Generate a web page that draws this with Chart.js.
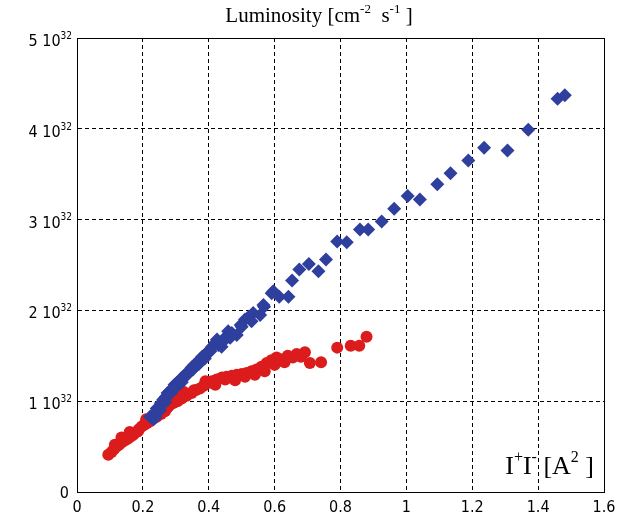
<!DOCTYPE html>
<html>
<head>
<meta charset="utf-8">
<script src="https://cdn.jsdelivr.net/npm/chart.js@4/dist/chart.umd.min.js"></script>
<style>
  html, body { margin: 0; padding: 0; background: #fff; }
  #wrap { width: 628px; height: 519px; position: relative; }
</style>
</head>
<body>
<div id="wrap"><canvas id="myChart" width="628" height="519"></canvas></div>
<script>
// データ（y は 10^32 cm^-2 s^-1 単位）
const blueX = [0.222, 0.232, 0.235, 0.242, 0.250, 0.255, 0.262, 0.270, 0.275, 0.282, 0.290, 0.296, 0.303, 0.310, 0.316, 0.323, 0.330, 0.340, 0.348, 0.356, 0.365, 0.373, 0.380, 0.390, 0.399, 0.410, 0.419, 0.429, 0.439, 0.449, 0.459, 0.470, 0.485, 0.497, 0.510, 0.522, 0.535, 0.556, 0.566, 0.568, 0.591, 0.596, 0.614, 0.642, 0.653, 0.675, 0.704, 0.733, 0.756, 0.790, 0.819, 0.859, 0.884, 0.925, 0.963, 1.004, 1.041, 1.094, 1.134, 1.188, 1.236, 1.307, 1.370, 1.459, 1.481,
  0.238, 0.252, 0.268, 0.285, 0.300, 0.318, 0.335, 0.352, 0.370, 0.388, 0.405, 0.425, 0.445, 0.465, 0.500, 0.530];
const blueY = [0.83, 0.80, 0.87, 0.92, 0.94, 0.98, 1.02, 1.05, 1.09, 1.11, 1.14, 1.18, 1.20, 1.22, 1.25, 1.27, 1.30, 1.33, 1.37, 1.40, 1.43, 1.46, 1.49, 1.52, 1.55, 1.60, 1.64, 1.62, 1.60, 1.70, 1.77, 1.75, 1.73, 1.84, 1.90, 1.93, 1.97, 1.95, 2.06, 2.04, 2.19, 2.21, 2.15, 2.15, 2.33, 2.45, 2.51, 2.43, 2.56, 2.76, 2.75, 2.89, 2.89, 2.98, 3.12, 3.26, 3.22, 3.39, 3.51, 3.65, 3.79, 3.76, 3.99, 4.33, 4.37,
  0.82, 0.90, 0.99, 1.09, 1.15, 1.21, 1.29, 1.35, 1.41, 1.47, 1.55, 1.68, 1.66, 1.70, 1.82, 1.88];

const redX = [0.095, 0.105, 0.112, 0.120, 0.128, 0.137, 0.146, 0.155, 0.163, 0.171, 0.180, 0.188, 0.196, 0.205, 0.213, 0.222, 0.232, 0.242, 0.255, 0.267, 0.275, 0.283, 0.292, 0.305, 0.318, 0.333, 0.348, 0.360, 0.373, 0.385, 0.399, 0.410, 0.424, 0.440, 0.454, 0.470, 0.485, 0.500, 0.515, 0.530, 0.545, 0.560, 0.576, 0.590, 0.606, 0.621, 0.640, 0.667, 0.692, 0.707, 0.741, 0.790, 0.831, 0.857, 0.879,
  0.115, 0.135, 0.160, 0.185, 0.210, 0.250, 0.270, 0.300, 0.325, 0.355, 0.390, 0.420, 0.450, 0.480, 0.510, 0.540, 0.570, 0.600, 0.630, 0.655, 0.680];
const redY = [0.41, 0.44, 0.47, 0.50, 0.52, 0.55, 0.57, 0.59, 0.61, 0.63, 0.66, 0.69, 0.72, 0.74, 0.76, 0.78, 0.81, 0.83, 0.86, 0.89, 0.93, 0.96, 0.98, 1.00, 1.03, 1.06, 1.09, 1.12, 1.14, 1.17, 1.20, 1.22, 1.24, 1.26, 1.27, 1.28, 1.29, 1.30, 1.31, 1.33, 1.35, 1.38, 1.42, 1.45, 1.48, 1.46, 1.50, 1.52, 1.54, 1.42, 1.43, 1.59, 1.61, 1.61, 1.71,
  0.52, 0.60, 0.66, 0.67, 0.80, 0.93, 0.96, 1.05, 1.10, 1.12, 1.22, 1.18, 1.24, 1.23, 1.27, 1.29, 1.33, 1.40, 1.43, 1.48, 1.49];

// 軸目盛
const xTicks = [0, 0.2, 0.4, 0.6, 0.8, 1, 1.2, 1.4, 1.6];
const yTicks = [0, 1, 2, 3, 4, 5];

const toPoints = (xs, ys) => xs.map((x, i) => ({ x: x, y: ys[i] }));

// 上付き文字を含むテキストを描く
function drawRich(ctx, parts, x, y, size, family, align) {
  const mainFont = `${size}px ${family}`;
  const supFont = `${Math.round(size * 0.62)}px ${family}`;
  let total = 0;
  parts.forEach(p => {
    ctx.font = p.sup ? supFont : mainFont;
    total += ctx.measureText(p.t).width;
  });
  let cx = align === 'right' ? x - total : align === 'center' ? x - total / 2 : x;
  ctx.textAlign = 'left';
  ctx.textBaseline = 'alphabetic';
  parts.forEach(p => {
    ctx.font = p.sup ? supFont : mainFont;
    ctx.fillText(p.t, cx, p.sup ? y - size * 0.45 : y);
    cx += ctx.measureText(p.t).width;
  });
}

const decorPlugin = {
  id: 'decor',
  afterDraw(chart) {
    const { ctx, chartArea, scales } = chart;
    ctx.save();
    // 枠線
    ctx.strokeStyle = '#000';
    ctx.lineWidth = 1;
    ctx.setLineDash([]);
    ctx.strokeRect(chartArea.left + 0.5, chartArea.top + 0.5,
      chartArea.right - chartArea.left, chartArea.bottom - chartArea.top);

    ctx.fillStyle = '#000';
    // y 軸ラベル
    yTicks.forEach(v => {
      const py = scales.y.getPixelForValue(v);
      if (v === 0) {
        drawRich(ctx, [{ t: '0' }], 69, py + 6, 16, '"DejaVu Sans Condensed", "DejaVu Sans"', 'right');
      } else {
        drawRich(ctx, [{ t: `${v} 10` }, { t: '32', sup: true }], 72, py + 8, 16, '"DejaVu Sans Condensed", "DejaVu Sans"', 'right');
      }
    });
    // タイトル
    drawRich(ctx, [{ t: 'Luminosity [cm' }, { t: '-2', sup: true }, { t: '  s' }, { t: '-1', sup: true }, { t: ' ]' }],
      319, 22, 21, '"Liberation Serif", serif', 'center');
    // x 軸タイトル
    drawRich(ctx, [{ t: 'I' }, { t: '+', sup: true }, { t: 'I' }, { t: '-', sup: true }, { t: ' [A' }, { t: '2', sup: true }, { t: ' ]' }],
      594, 474, 26, '"Liberation Serif", serif', 'right');
    ctx.restore();
  }
};

const chartCanvas = document.getElementById('myChart');
new Chart(chartCanvas, {
  type: 'scatter',
  data: {
    datasets: [
      {
        label: 'blue',
        data: toPoints(blueX, blueY),
        pointStyle: 'rectRot',
        pointRadius: 7,
        backgroundColor: '#2e3f9e',
        borderColor: '#2e3f9e',
        borderWidth: 0
      },
      {
        label: 'red',
        data: toPoints(redX, redY),
        pointStyle: 'circle',
        pointRadius: 6,
        backgroundColor: '#dc1c1c',
        borderColor: '#dc1c1c',
        borderWidth: 0
      }
    ]
  },
  options: {
    responsive: false,
    animation: false,
    devicePixelRatio: 1,
    layout: { padding: { top: 38, right: 24, bottom: 0, left: 0 } },
    plugins: {
      legend: { display: false },
      tooltip: { enabled: false }
    },
    scales: {
      x: {
        type: 'linear',
        min: 0,
        max: 1.6,
        afterBuildTicks: s => { s.ticks = xTicks.map(v => ({ value: v })); },
        afterFit: s => { s.height = 27; },
        ticks: {
          color: '#000',
          padding: 6,
          maxRotation: 0,
          font: { family: '"DejaVu Sans Condensed", "DejaVu Sans"', size: 16 },
          callback: v => String(Math.round(v * 10) / 10)
        },
        grid: { color: '#000', lineWidth: 1, drawTicks: false },
        border: { color: '#000', width: 1, dash: [4, 3] }
      },
      y: {
        type: 'linear',
        min: 0,
        max: 5,
        afterBuildTicks: s => { s.ticks = yTicks.map(v => ({ value: v })); },
        afterFit: s => { s.width = 77; },
        ticks: { display: false },
        grid: { color: '#000', lineWidth: 1, drawTicks: false },
        border: { color: '#000', width: 1, dash: [4, 3] }
      }
    }
  },
  plugins: [decorPlugin]
});
</script>
</body>
</html>
